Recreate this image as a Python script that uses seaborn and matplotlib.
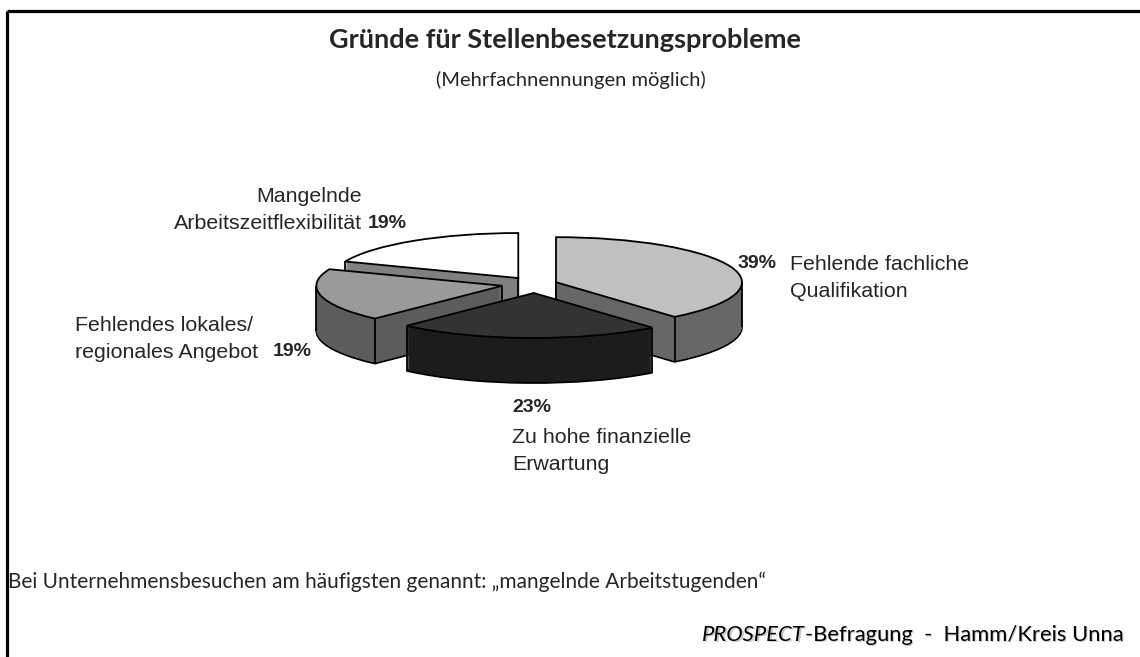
import numpy as np
import matplotlib
matplotlib.use("Agg")
import matplotlib.pyplot as plt
import seaborn as sns

# ------------------------------------------------------------------
# Daten
# ------------------------------------------------------------------
gruende = ["Fehlende fachliche\nQualifikation",
           "Zu hohe finanzielle\nErwartung",
           "Fehlendes lokales/\nregionales Angebot",
           "Mangelnde\nArbeitszeitflexibilität"]
anteile = [39, 23, 19, 19]

farben_oben = ["#c0c0c0", "#333333", "#9a9a9a", "#ffffff"]
farben_seite = ["#666666", "#1c1c1c", "#5c5c5c", "#808080"]
explode = [0.12, 0.2, 0.18, 0.16]   # Anteil am Radius
reihenfolge = [1, 3, 2, 0]          # hinten -> vorne

titel = "Gründe für Stellenbesetzungsprobleme"
untertitel = "(Mehrfachnennungen möglich)"
fussnote = "Bei Unternehmensbesuchen am häufigsten genannt: „mangelnde Arbeitstugenden\u201c"
quelle_kursiv = "PROSPECT"
quelle_rest = "-Befragung  -  Hamm/Kreis Unna"

# ------------------------------------------------------------------
# Geometrie (Pixel)
# ------------------------------------------------------------------
W, H = 1140, 657
R = 186            # halbe Breite der Ellipse
K = 45 / 186       # Stauchung -> Schraegansicht
TIEFE = 45         # Hoehe der Torte in px
CX, CY = 535, 284  # Mittelpunkt der Oberseite

sns.set_theme(style="white")
plt.rcParams["font.family"] = ["Liberation Sans", "DejaVu Sans"]

fig = plt.figure(figsize=(W / 100, H / 100), dpi=100)
fig.patch.set_facecolor("white")

# Torte: x in Pixel, y in Pixel / K
pax = fig.add_axes([0, 0, 1, 1])
top_wedges = None
for k in range(TIEFE, -1, -1):
    oben = k == 0
    unten = k == TIEFE
    rand = oben or unten
    wedges, _ = pax.pie(
        anteile, explode=[e * R for e in explode], startangle=90,
        counterclock=False,
        colors=farben_oben if oben else farben_seite,
        radius=R, center=(CX, (H - CY - k) / K),
        wedgeprops=dict(edgecolor="black" if rand else "none",
                        linewidth=1.3 if rand else 0),
    )
    for w, rang in zip(wedges, reihenfolge):
        w.set_zorder(10 + rang * 100 + (TIEFE - k))
    if oben:
        top_wedges = wedges


def sichtbar(winkel):
    return np.sin(np.radians(winkel)) < -1e-6


# senkrechte Kanten (Silhouette + sichtbare Knicke)
for w, rang in zip(top_wedges, reihenfolge):
    x0, y0 = w.center
    r, t1, t2 = w.r, w.theta1, w.theta2
    xs, ys = [], []
    if sichtbar(t1 - 90) or sichtbar(t2 + 90):
        xs.append(x0)
        ys.append(y0)
    for t, n in ((t1, t1 - 90), (t2, t2 + 90)):
        if sichtbar(t) or sichtbar(n):
            xs.append(x0 + r * np.cos(np.radians(t)))
            ys.append(y0 + r * np.sin(np.radians(t)))
    for t in (0, 180):
        if (t - t1) % 360 < (t2 - t1) % 360:
            xs.append(x0 + r * np.cos(np.radians(t)))
            ys.append(y0 + r * np.sin(np.radians(t)))
    ys = np.array(ys)
    pax.vlines(xs, ys - TIEFE / K, ys, colors="black", linewidth=1.3,
               zorder=10 + rang * 100 + TIEFE - 0.5)

pax.set_aspect("auto")
pax.set_xlim(0, W)
pax.set_ylim(0, H / K)
pax.axis("off")

# Texte in Pixelkoordinaten
tax = fig.add_axes([0, 0, 1, 1])
tax.set_xlim(0, W)
tax.set_ylim(H, 0)
tax.axis("off")
tax.patch.set_alpha(0)

# Rahmen oben und links
tax.plot([7, W], [10.5, 10.5], color="black", linewidth=2.3, solid_capstyle="butt")
tax.plot([7, 7], [10.5, H], color="black", linewidth=2.3, solid_capstyle="butt")

schmal = ["Lato", "DejaVu Sans"]
tax.text(565, 40, titel, ha="center", va="center", fontsize=19.5,
         fontweight="bold", family=schmal)
tax.text(571, 80, untertitel, ha="center", va="center", fontsize=14.5, family=schmal)

lab = dict(fontsize=15.4, linespacing=1.55, va="center")
pct = dict(fontsize=14, fontweight="bold", va="center")

tax.text(790, 278, gruende[0], ha="left", **lab)
tax.text(738, 263, f"{anteile[0]}%", ha="left", **pct)

tax.text(512, 451, gruende[1], ha="left", **lab)
tax.text(512, 408, f"{anteile[1]}%", ha="left", **pct)

tax.text(75, 339, gruende[2], ha="left", **lab)
tax.text(273, 352, f"{anteile[2]}%", ha="left", **pct)

tax.text(362, 210, gruende[3], ha="right", **lab)
tax.text(368, 224, f"{anteile[3]}%", ha="left", **pct)

tax.text(8, 582, fussnote, ha="left", va="center", fontsize=15, family=schmal)

# Quelle mit leichtem Schatten
for dx, farbe in ((1.5, "#c8c8c8"), (0, "black")):
    t1 = tax.text(702 + dx, 645 + dx, quelle_kursiv, ha="left", va="bottom",
                  fontsize=15.8, style="italic", family=schmal, color=farbe)
    tax.annotate(quelle_rest, xy=(1, 0), xycoords=t1, ha="left", va="bottom",
                 fontsize=15.8, family=schmal, color=farbe)

fig.savefig("out.png", dpi=100, facecolor="white")
